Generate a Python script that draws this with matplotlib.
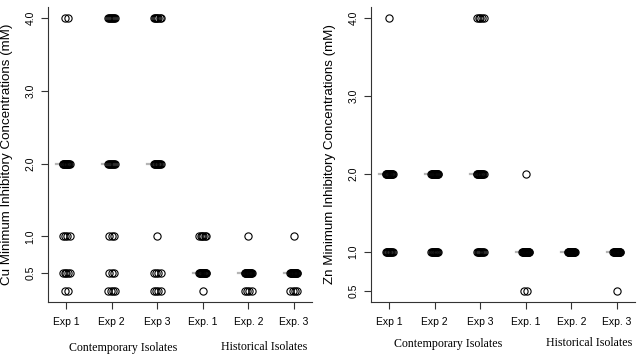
import numpy as np
import matplotlib.pyplot as plt
from matplotlib import transforms

groups = ["Exp 1", "Exp 2", "Exp 3", "Exp. 1", "Exp. 2", "Exp. 3"]
yticks = [0.5, 1.0, 2.0, 3.0, 4.0]

# Cu: number of isolates at each MIC level, one row per experiment
cu_levels = [0.25, 0.5, 1.0, 2.0, 4.0]
cu_counts = [
    [2, 5, 4, 12, 2],
    [4, 3, 3, 8, 8],
    [4, 4, 1, 10, 7],
    [1, 14, 6, 0, 0],
    [4, 16, 1, 0, 0],
    [4, 16, 1, 0, 0],
]

# Zn
zn_levels = [0.5, 1.0, 2.0, 4.0]
zn_counts = [
    [0, 10, 14, 1],
    [0, 11, 15, 0],
    [0, 9, 12, 5],
    [2, 18, 1, 0],
    [0, 20, 0, 0],
    [1, 19, 0, 0],
]

tick_font = "Liberation Sans"


def draw_panel(ax, levels, counts, ylabel):
    used = [lv for lv, col in zip(levels, np.array(counts).T) if col.sum() > 0]
    lo, hi = min(used), max(used)
    pad = 0.04 * (hi - lo)
    for i, row in enumerate(counts, start=1):
        vals = np.repeat(levels, row)
        med = np.median(vals)
        ax.plot([i - 0.22, i], [med, med], color="#b5b5b5", lw=1.6, zorder=1)
        for lv, n in zip(levels, row):
            if n == 0:
                continue
            w = min(0.075, 0.03 * (n - 1))
            xs = i + np.linspace(-w, w, n)
            ax.plot(xs, [lv] * n, "o", mfc="none", mec="black", ms=5.2,
                    mew=0.8, zorder=2)

    ax.set_xlim(0.6, 6.4)
    ax.set_ylim(lo - pad, hi + pad)
    ax.spines["top"].set_visible(False)
    ax.spines["right"].set_visible(False)
    for s in ("left", "bottom"):
        ax.spines[s].set_linewidth(0.8)
        ax.spines[s].set_color("#333333")
    ax.set_xticks(range(1, 7))
    ax.set_xticklabels(groups, family=tick_font, fontsize=7.5)
    ax.set_yticks(yticks)
    ax.set_yticklabels([f"{v:.1f}" for v in yticks], family=tick_font,
                       fontsize=7.5, rotation=90, va="center")
    ax.tick_params(axis="x", length=5, width=0.8, pad=6, color="#333333")
    ax.tick_params(axis="y", length=5, width=0.8, pad=4, color="#333333")
    ax.set_ylabel(ylabel, family="Liberation Sans", fontsize=9.6)
    ax.yaxis.set_label_coords(-0.132, 0.5)


fig = plt.figure(figsize=(6.43, 3.56), dpi=100)
ax_cu = fig.add_axes([48 / 643, 54 / 356, 264 / 643, 295 / 356])
ax_zn = fig.add_axes([371 / 643, 54 / 356, 264 / 643, 295 / 356])

draw_panel(ax_cu, cu_levels, cu_counts, "Cu Minimum Inhibitory Concentrations (mM)")
draw_panel(ax_zn, zn_levels, zn_counts, "Zn Minimum Inhibitory Concentrations (mM)")

for ax, xc, xh, yc in [(ax_cu, 2.25, 5.34, 348), (ax_zn, 2.29, 5.39, 344)]:
    tr = transforms.blended_transform_factory(ax.transData, fig.transFigure)
    ax.text(xc, 1 - yc / 356, "Contemporary Isolates", transform=tr,
            ha="center", va="center", family="Liberation Serif", fontsize=8.6)
    ax.text(xh, 1 - (yc - 1) / 356, "Historical Isolates", transform=tr,
            ha="center", va="center", family="Liberation Serif", fontsize=8.6)

fig.savefig("out.png", dpi=100)
